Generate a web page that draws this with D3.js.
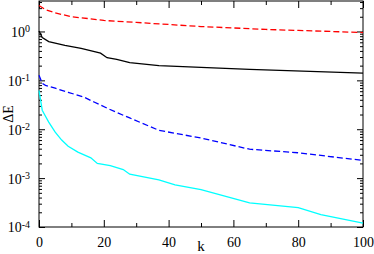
<!DOCTYPE html>
<html>
<head>
<meta charset="utf-8">
<script src="https://cdn.jsdelivr.net/npm/d3@7"></script>
<style>
  body { margin: 0; background: #fff; }
</style>
</head>
<body>
<svg width="374" height="254"></svg>
<script>
// values
var kRed = [0, 2, 5, 10, 15, 20, 30, 40, 50, 60, 70, 80, 90, 100];
var eRed = [3.4, 2.8, 2.4, 2.0, 1.84, 1.68, 1.53, 1.39, 1.26, 1.18, 1.1, 1.05, 1.0, 0.95];

var kBlack = [0, 1, 3, 8, 13, 19, 21, 24, 28, 37, 50, 65, 100];
var eBlack = [1.02, 0.75, 0.62, 0.52, 0.45, 0.36, 0.29, 0.27, 0.23, 0.2, 0.184, 0.168, 0.14];

var kBlue = [0, 1, 2, 5, 9, 14, 17, 21, 24, 28, 37, 50, 65, 80, 100];
var eBlue = [0.127, 0.087, 0.079, 0.069, 0.057, 0.045, 0.036, 0.027, 0.022, 0.017, 0.0095, 0.0066, 0.0039, 0.0033, 0.0023];

var kCyan = [0, 1, 2, 3, 5, 7, 9, 12, 16, 18, 22, 26, 28, 37, 42, 50, 65, 80, 87, 100];
var eCyan = [0.062, 0.0245, 0.0184, 0.014, 0.0087, 0.006, 0.0045, 0.0034, 0.0026, 0.002, 0.0018, 0.0015, 0.0012, 0.00092, 0.00073, 0.00058, 0.00031, 0.00025, 0.00018, 0.00012];

var xTicks = [0, 20, 40, 60, 80, 100];
var yTicks = [1e-4, 1e-3, 1e-2, 1e-1, 1];

var serif = '"Liberation Serif", "Times New Roman", serif';
var svg = d3.select('svg').attr('font-family', serif);
var padding = {t: 1, r: 11, b: 27, l: 39};
var width = 374 - padding.l - padding.r;
var height = 254 - padding.t - padding.b;

var xScale = d3.scaleLinear().domain([0, 100]).range([0, width]);
var yScale = d3.scaleLog().domain([1e-4, 4.2]).range([height, 0]);

var g = svg.append('g').attr('transform', 'translate(' + [padding.l, padding.t] + ')');

// minor ticks on y: 2..9 in each decade
var yMinor = [];
for (var d = -4; d <= 0; d++) {
    for (var m = 2; m <= 9; m++) {
        var v = m * Math.pow(10, d);
        if (v <= 4.2) yMinor.push(v);
    }
}
var xMinor = [10, 30, 50, 70, 90];

function styleAxis(sel) {
    sel.attr('font-family', serif);
    sel.select('.domain').remove();
    sel.selectAll('line').attr('stroke', '#000');
    sel.selectAll('text').attr('font-size', 14).attr('fill', '#000');
}

// x axis bottom (labels) and top (ticks only)
g.append('g').attr('transform', 'translate(0,' + height + ')')
    .call(d3.axisBottom(xScale).tickValues(xTicks).tickSize(-7).tickPadding(10).tickFormat(d3.format('d')))
    .call(styleAxis);
g.append('g').attr('transform', 'translate(0,' + height + ')')
    .call(d3.axisBottom(xScale).tickValues(xMinor).tickSize(-4).tickFormat(''))
    .call(styleAxis);
g.append('g')
    .call(d3.axisTop(xScale).tickValues(xTicks).tickSize(-7).tickFormat(''))
    .call(styleAxis);
g.append('g')
    .call(d3.axisTop(xScale).tickValues(xMinor).tickSize(-4).tickFormat(''))
    .call(styleAxis);

// y axis left (labels) and right
var yLeft = g.append('g')
    .call(d3.axisLeft(yScale).tickValues(yTicks).tickSize(-6).tickPadding(9).tickFormat(''))
    .call(styleAxis);
yLeft.selectAll('.tick text').each(function(d) {
    var t = d3.select(this).attr('dy', '0.35em');
    t.append('tspan').text('10');
    t.append('tspan').attr('dy', '-0.45em').attr('font-size', 10).text(Math.round(Math.log10(d)));
});
g.append('g')
    .call(d3.axisLeft(yScale).tickValues(yMinor).tickSize(-3).tickFormat(''))
    .call(styleAxis);
g.append('g').attr('transform', 'translate(' + width + ',0)')
    .call(d3.axisRight(yScale).tickValues(yTicks).tickSize(-6).tickFormat(''))
    .call(styleAxis);
g.append('g').attr('transform', 'translate(' + width + ',0)')
    .call(d3.axisRight(yScale).tickValues(yMinor).tickSize(-3).tickFormat(''))
    .call(styleAxis);

// frame
g.append('rect').attr('width', width).attr('height', height)
    .attr('fill', 'none').attr('stroke', '#000').attr('stroke-width', 1);

// lines
var series = [
    {k: kRed, e: eRed, color: '#ff0000', dash: '6,3'},
    {k: kBlack, e: eBlack, color: '#000000', dash: null},
    {k: kBlue, e: eBlue, color: '#0000ff', dash: '6,3'},
    {k: kCyan, e: eCyan, color: '#00ffff', dash: null}
];
var line = d3.line().x(d => xScale(d[0])).y(d => yScale(d[1]));
series.forEach(function(s) {
    var pts = s.k.map((k, i) => [k, s.e[i]]);
    g.append('path').attr('d', line(pts))
        .attr('fill', 'none').attr('stroke', s.color).attr('stroke-width', 1.3)
        .attr('stroke-dasharray', s.dash);
});

// axis titles
svg.append('text').attr('x', padding.l + width / 2).attr('y', 251)
    .attr('text-anchor', 'middle').attr('font-size', 15).text('k');
svg.append('text').attr('transform', 'translate(13,' + (padding.t + height / 2) + ') rotate(-90)')
    .attr('text-anchor', 'middle').attr('font-size', 14).text('ΔE');
</script>
</body>
</html>
